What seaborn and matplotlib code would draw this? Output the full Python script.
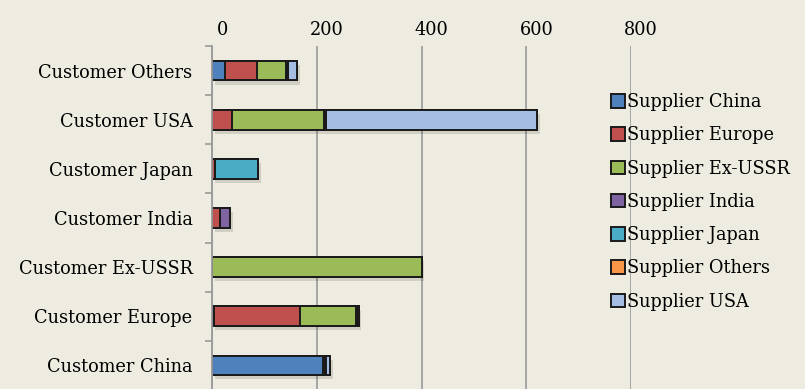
import numpy as np
import pandas as pd
import seaborn as sns
import matplotlib.pyplot as plt
import matplotlib.patheffects as pe
from matplotlib.transforms import ScaledTranslation

# datos (de arriba hacia abajo)
clientes = ["Customer Others", "Customer USA", "Customer Japan", "Customer India",
            "Customer Ex-USSR", "Customer Europe", "Customer China"]
proveedores = ["Supplier China", "Supplier Europe", "Supplier Ex-USSR", "Supplier India",
               "Supplier Japan", "Supplier Others", "Supplier USA"]

sup_china = [25, 0, 0, 0, 0, 4, 211]
sup_europe = [61, 39, 5, 16, 0, 164, 4]
sup_exussr = [55, 175, 0, 0, 400, 107, 0]
sup_india = [2, 2, 0, 18, 0, 2, 0]
sup_japan = [2, 1, 83, 0, 0, 0, 0]
sup_others = [1, 1, 0, 0, 0, 3, 3]
sup_usa = [17, 402, 0, 0, 0, 0, 8]

colores = ["#4F81BD", "#C0504D", "#9BBB59", "#8064A2", "#4BACC6", "#F79646", "#A5BDE2"]
fondo = "#EEEBE0"
tamano = 12.8

df = pd.DataFrame({p: v for p, v in zip(proveedores, [sup_china, sup_europe, sup_exussr,
                                                        sup_india, sup_japan, sup_others, sup_usa])},
                  index=clientes)
acum = df.cumsum(axis=1)

sns.set_theme(style="white")
plt.rcParams["font.family"] = ["DejaVu Serif"]

fig = plt.figure(figsize=(8.05, 3.89), dpi=100, facecolor=fondo)
ax = fig.add_axes([212 / 805, -1 / 389, 419 / 805, 344 / 389])
ax.set_facecolor(fondo)

# barras apiladas: se dibuja el acumulado de mayor a menor
for i in range(len(proveedores) - 1, -1, -1):
    p = proveedores[i]
    sns.barplot(x=acum[p].values, y=clientes, orient="h", color=colores[i],
                width=0.4, edgecolor="#1a1a1a", linewidth=1.4, saturation=1,
                ax=ax, label=p)
    if i == len(proveedores) - 1:
        for barra in ax.patches:
            barra.set_path_effects([pe.withSimplePatchShadow(offset=(2, -3), alpha=0.12,
                                                             shadow_rgbFace="#000000"),
                                    pe.Normal()])
mangos, etiquetas = ax.get_legend_handles_labels()
if ax.get_legend() is not None:
    ax.get_legend().remove()

ax.set_xlim(0, 800)
ax.set_xticks([0, 200, 400, 600, 800])
ax.xaxis.tick_top()
ax.tick_params(axis="x", length=0, pad=5, labelsize=tamano, colors="#000000")
desplaza = ScaledTranslation(10 / 100, 0, fig.dpi_scale_trans)
for t in ax.get_xticklabels():
    t.set_transform(t.get_transform() + desplaza)
ax.set_xlabel("")
ax.set_ylabel("")
ax.tick_params(axis="y", length=0, pad=14, labelsize=tamano, colors="#000000")
ax.set_yticks(np.arange(-0.5, 7, 1), minor=True)
ax.tick_params(axis="y", which="minor", length=5, color="#999999", width=1.2, left=True)

ax.grid(axis="x", color="#A0A0A0", linewidth=1.3)
ax.set_axisbelow(True)
for lado in ["top", "right", "bottom"]:
    ax.spines[lado].set_visible(False)
ax.spines["left"].set_color("#999999")
ax.spines["left"].set_linewidth(1.3)

# leyenda en el orden original
orden = [etiquetas.index(p) for p in proveedores]
leg = fig.legend([mangos[k] for k in orden], proveedores, loc="upper left",
                 bbox_to_anchor=(611 / 805, 1 - 93 / 389), frameon=False,
                 fontsize=tamano, handlelength=0.8, handleheight=0.8,
                 handletextpad=0.1, labelspacing=0.86, borderaxespad=0, borderpad=0)
for h in leg.legend_handles:
    h.set_edgecolor("#1a1a1a")
    h.set_linewidth(1.4)
    h.set_path_effects([])
for t in leg.get_texts():
    t.set_color("#000000")

fig.savefig("out.png", dpi=100, facecolor=fondo)
